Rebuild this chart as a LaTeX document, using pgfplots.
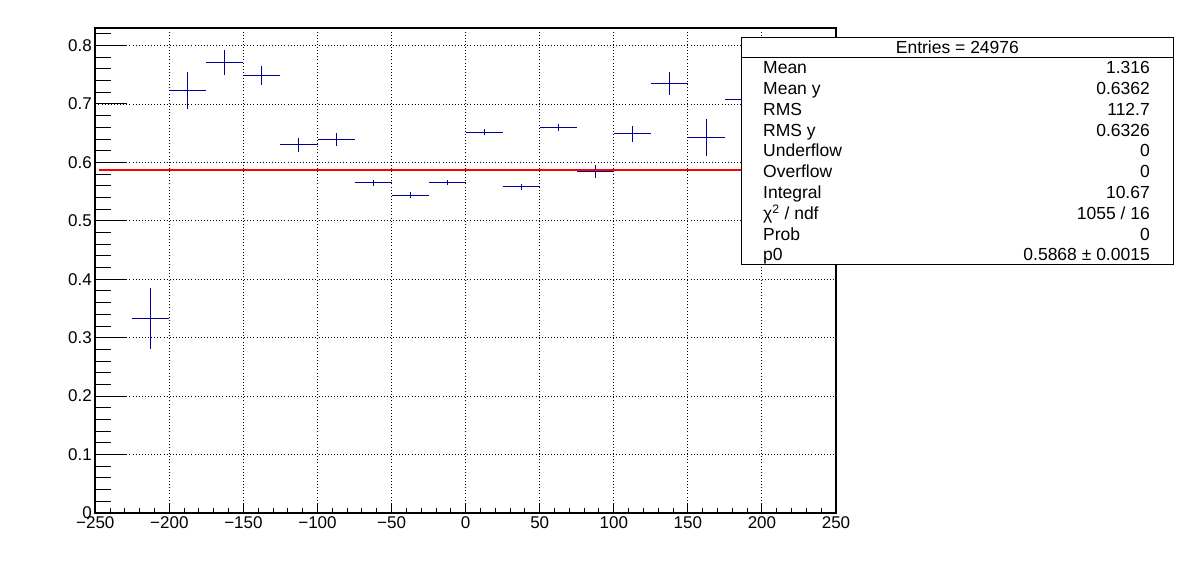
\documentclass[border=0pt]{standalone}
\usepackage{fontspec}
\setmainfont{Liberation Sans}
\usepackage{pgfplots}
\usepackage{pgfplotstable}
\pgfplotsset{compat=1.18}
\definecolor{rootblue}{RGB}{0,0,153}

% profile bins (centre, mean, half width, error)
\pgfplotstableread{
x y ex ey
-212.5 0.333 12.5 0.052
-187.5 0.723 12.5 0.0315
-162.5 0.771 12.5 0.022
-137.5 0.749 12.5 0.016
-112.5 0.630 12.5 0.012
-87.5 0.639 12.5 0.011
-62.5 0.565 12.5 0.005
-37.5 0.544 12.5 0.005
-12.5 0.566 12.5 0.0046
12.5 0.652 12.5 0.005
37.5 0.558 12.5 0.0046
62.5 0.660 12.5 0.0057
87.5 0.584 12.5 0.011
112.5 0.649 12.5 0.014
137.5 0.735 12.5 0.019
162.5 0.643 12.5 0.032
187.5 0.707 12.5 0.02
}\profdata

\begin{document}
\begin{tikzpicture}
\useasboundingbox (-95.3pt,-59pt) rectangle (1100.7pt,513pt);
\pgfplotsset{
  rootframe/.style={
    width=740.7pt, height=485pt, scale only axis,
    at={(0pt,0pt)}, anchor=south west,
    xmin=-250, xmax=250, ymin=0, ymax=0.83,
    axis line style={line width=1.6pt},
    tick align=inside,
    tick style={black, line width=1pt},
    tick label style={font=\fontsize{17}{17}\selectfont},
    xtick pos=bottom, ytick pos=left,
    ytick={0,0.1,0.2,0.3,0.4,0.5,0.6,0.7,0.8},
    minor ytick={0.02,0.04,0.06,0.08,0.12,0.14,0.16,0.18,0.22,0.24,0.26,0.28,
      0.32,0.34,0.36,0.38,0.42,0.44,0.46,0.48,0.52,0.54,0.56,0.58,
      0.62,0.64,0.66,0.68,0.72,0.74,0.76,0.78,0.82},
  }
}
\begin{axis}[rootframe,
  xtick={-250,-200,...,250},
  xticklabels={−250,−200,−150,−100,−50,0,50,100,150,200,250},
  minor xtick={-240,-230,-220,-210,-190,-180,-170,-160,-140,-130,-120,-110,
    -90,-80,-70,-60,-40,-30,-20,-10,10,20,30,40,60,70,80,90,
    110,120,130,140,160,170,180,190,210,220,230,240},
  yticklabels={},
  ytick style={draw=none},
  major tick length=9pt, minor tick length=4.5pt,
  grid=major,
  major grid style={black, line width=0.9pt, dash pattern=on 0.9pt off 2.2pt},
]
\addplot[rootblue, line width=1pt, only marks, mark=*, mark size=0pt,
  error bars/.cd, x dir=both, x explicit, y dir=both, y explicit,
  error mark=none, error bar style={rootblue, line width=1pt}]
  table[x=x, y=y, x error=ex, y error=ey] {\profdata};
\addplot[red, line width=2pt] coordinates {(-247.5,0.5868) (247.5,0.5868)};
\end{axis}
\begin{axis}[rootframe,
  xtick=\empty,
  yticklabels={0,0.1,0.2,0.3,0.4,0.5,0.6,0.7,0.8},
  major tick length=32pt, minor tick length=16pt,
]
\end{axis}

% stats box
\tikzset{stat/.style={font=\fontsize{17.5}{17.5}\selectfont, inner sep=0pt, text height=12.6pt, text depth=0pt}}
\draw[line width=1pt, fill=white] (646.2pt,248pt) rectangle (1078pt,475.5pt);
\draw[line width=1pt] (646.2pt,455.7pt) -- (1078pt,455.7pt);
\node[stat] at (862.1pt,465.6pt) {Entries = 24976};
\node[stat, anchor=west] at (667.7pt,445.3pt) {Mean};
\node[stat, anchor=east] at (1054.7pt,445.3pt) {1.316};
\node[stat, anchor=west] at (667.7pt,424.6pt) {Mean y};
\node[stat, anchor=east] at (1054.7pt,424.6pt) {0.6362};
\node[stat, anchor=west] at (667.7pt,403.8pt) {RMS};
\node[stat, anchor=east] at (1054.7pt,403.8pt) {112.7};
\node[stat, anchor=west] at (667.7pt,383.0pt) {RMS y};
\node[stat, anchor=east] at (1054.7pt,383.0pt) {0.6326};
\node[stat, anchor=west] at (667.7pt,362.3pt) {Underflow};
\node[stat, anchor=east] at (1054.7pt,362.3pt) {0};
\node[stat, anchor=west] at (667.7pt,341.5pt) {Overflow};
\node[stat, anchor=east] at (1054.7pt,341.5pt) {0};
\node[stat, anchor=west] at (667.7pt,320.7pt) {Integral};
\node[stat, anchor=east] at (1054.7pt,320.7pt) {10.67};
\node[stat, anchor=west] at (667.7pt,300.0pt) {χ\textsuperscript{2} / ndf};
\node[stat, anchor=east] at (1054.7pt,300.0pt) {1055 / 16};
\node[stat, anchor=west] at (667.7pt,279.2pt) {Prob};
\node[stat, anchor=east] at (1054.7pt,279.2pt) {0};
\node[stat, anchor=west] at (667.7pt,258.4pt) {p0};
\node[stat, anchor=east] at (1054.7pt,258.4pt) {0.5868 ± 0.0015};
\end{tikzpicture}
\end{document}
